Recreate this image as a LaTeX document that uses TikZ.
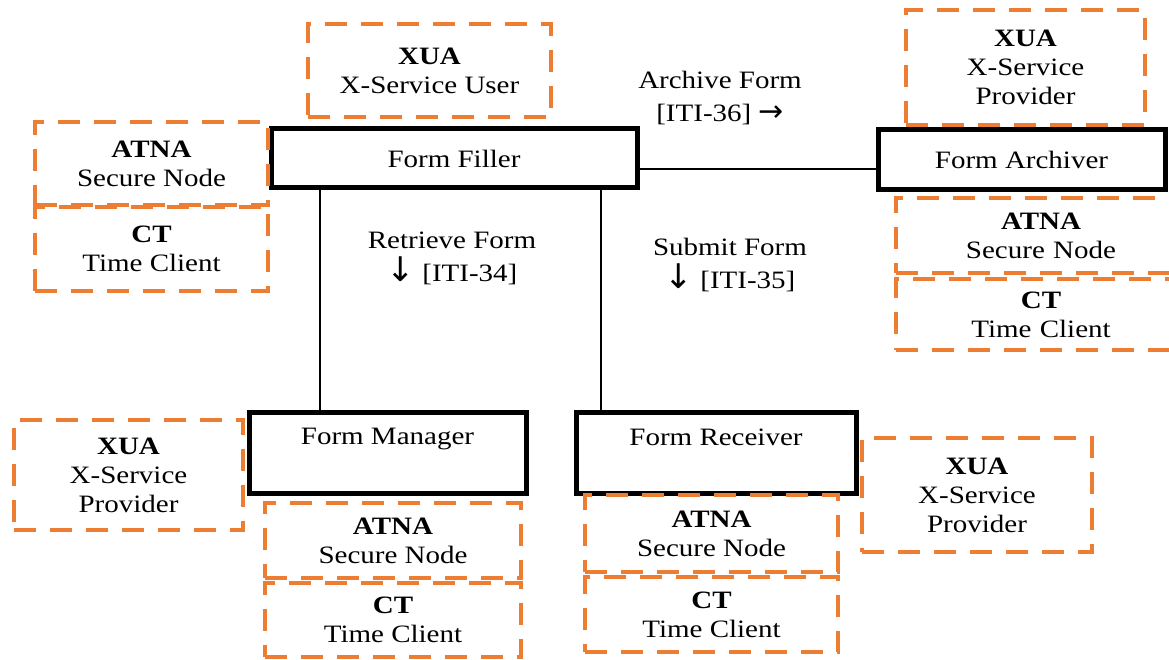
\documentclass[tikz,border=0pt]{standalone}
\usepackage{fontspec}
\setmainfont{Liberation Serif}[FakeStretch=1.16]
\newfontfamily\arrowfont{DejaVu Sans}
\usetikzlibrary{positioning}
\definecolor{dorange}{RGB}{237,125,49}
\begin{document}
\begin{tikzpicture}[x=1pt,y=-1pt,
  dbox/.style={draw=dorange, line width=4pt, dash pattern=on 22pt off 14pt, rectangle, inner sep=0pt, outer sep=0pt, align=center, font=\fontsize{25}{29}\selectfont},
  actor/.style={draw=black, line width=5pt, rectangle, inner sep=0pt, outer sep=0pt, align=center, font=\fontsize{25}{29}\selectfont},
  lbl/.style={align=center, inner sep=0pt, font=\fontsize{25}{33}\selectfont},
  conn/.style={draw=black, line width=2.5pt}]
\useasboundingbox (0,0) rectangle (1169,660);
% actors
\node[actor, minimum width=366pt, minimum height=59pt] (filler) at (454,158.5) {Form Filler};
\node[actor, minimum width=287pt, minimum height=60pt] (archiver) at (1021.5,160) {Form Archiver};
\node[actor, minimum width=277pt, minimum height=81pt] (manager) at (387.5,452.5) {};
\node[lbl, below=16pt of manager.north] (managertxt) {Form Manager};
\node[actor, minimum width=280pt, minimum height=81pt] (receiver) at (716,452.5) {};
\node[lbl, below=17pt of receiver.north] (receivertxt) {Form Receiver};
% dashed boxes
\node[dbox, minimum width=243pt, minimum height=93pt] (xuaU) at (429.5,70.5) {\textbf{XUA}\\X-Service User};
\node[dbox, minimum width=233pt, minimum height=83pt] (atnaL) at (151.5,163.5) {\textbf{ATNA}\\Secure Node};
\node[dbox, minimum width=233pt, minimum height=84pt] (ctL) at (151.5,249) {\textbf{CT}\\Time Client};
\node[dbox, minimum width=239pt, minimum height=115pt] (xuaR) at (1025.5,67.5) {\textbf{XUA}\\X-Service\\Provider};
\node[dbox, minimum width=290pt, minimum height=75pt, text width=256pt] (atnaR) at (1041,235.5) {\textbf{ATNA}\\Secure Node};
\node[dbox, minimum width=290pt, minimum height=71pt, text width=256pt] (ctR) at (1041,314.5) {\textbf{CT}\\Time Client};
\node[dbox, minimum width=229pt, minimum height=110pt] (xuaBL) at (128.5,475) {\textbf{XUA}\\X-Service\\Provider};
\node[dbox, minimum width=256pt, minimum height=75pt] (atnaM) at (393,540.5) {\textbf{ATNA}\\Secure Node};
\node[dbox, minimum width=256pt, minimum height=74pt] (ctM) at (393,620) {\textbf{CT}\\Time Client};
\node[dbox, minimum width=253pt, minimum height=77pt] (atnaRc) at (711.5,533.5) {\textbf{ATNA}\\Secure Node};
\node[dbox, minimum width=253pt, minimum height=75pt] (ctRc) at (711.5,614.5) {\textbf{CT}\\Time Client};
\node[dbox, minimum width=230pt, minimum height=114pt] (xuaBR) at (977,495) {\textbf{XUA}\\X-Service\\Provider};
% connectors
\draw[conn] ([yshift=-10.5pt]filler.east) -- ([yshift=-9pt]archiver.west);
\draw[conn] ([xshift=-67.5pt]manager.north) -- ([xshift=-67.5pt]manager.north |- filler.south);
\draw[conn] ([xshift=-115pt]receiver.north) -- ([xshift=-115pt]receiver.north |- filler.south);
% transaction labels
\node[lbl] (archlbl) at (720,98) {Archive Form\\{}[ITI-36] {\arrowfont\fontsize{30}{30}\selectfont →}};
\node[lbl] (retrlbl) at (452,258) {Retrieve Form\\{\arrowfont\fontsize{34}{33}\selectfont ↓}\ [ITI-34]};
\node[lbl] (submlbl) at (730,265) {Submit Form\\{\arrowfont\fontsize{34}{33}\selectfont ↓}\ [ITI-35]};
\end{tikzpicture}
\end{document}
